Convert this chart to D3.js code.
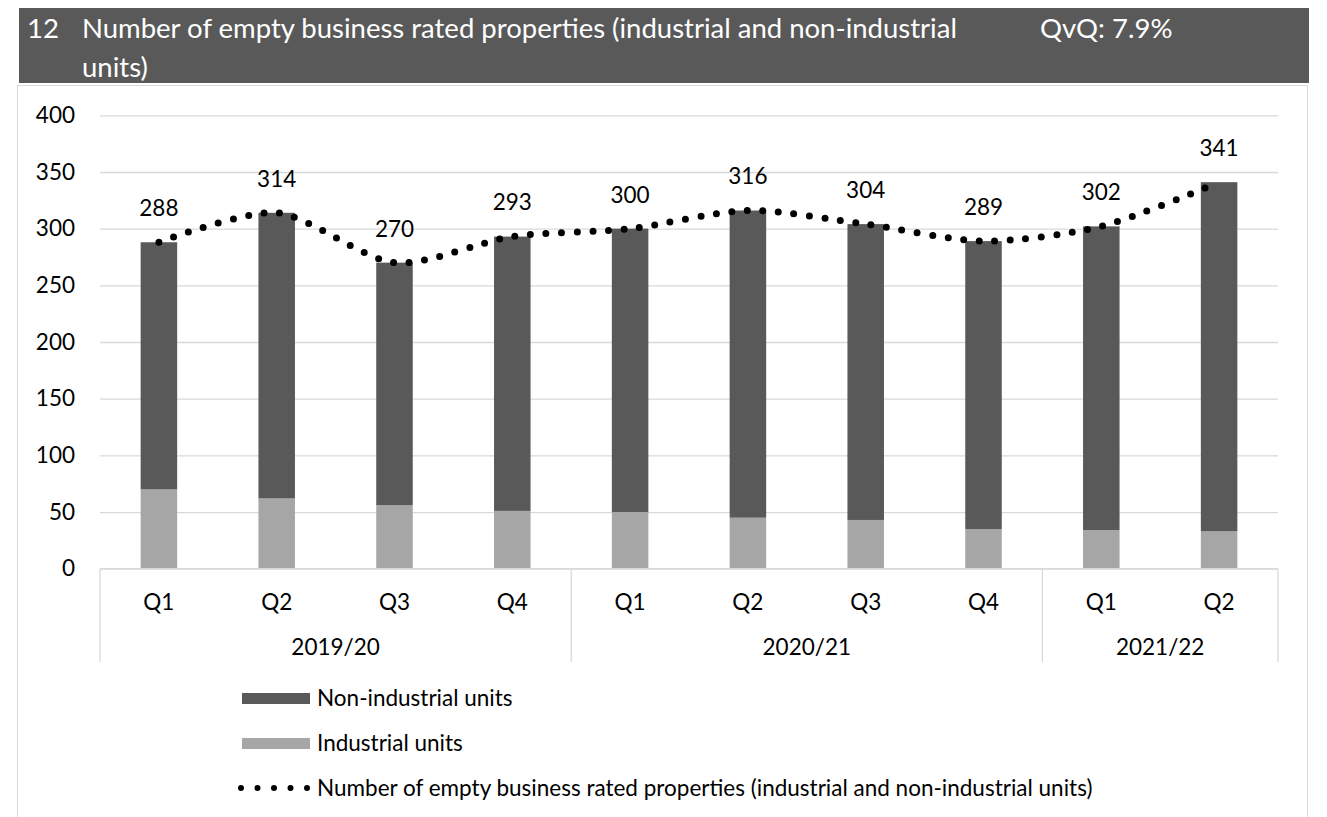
<!DOCTYPE html>
<html>
<head>
<meta charset="utf-8">
<script src="https://cdn.jsdelivr.net/npm/d3@7"></script>
<style>
  body { margin: 0; background: #fff; }
  svg text { font-family: Lato, "Open Sans", sans-serif; }
</style>
</head>
<body>
<svg id="chart" width="1327" height="817"></svg>
<script>
// chart data
const quarters = ['Q1', 'Q2', 'Q3', 'Q4', 'Q1', 'Q2', 'Q3', 'Q4', 'Q1', 'Q2'];
const yearLabels = ['2019/20', '2020/21', '2021/22'];
const yearSpans = [4, 4, 2];
const industrial = [70, 62, 56, 51, 50, 45, 43, 35, 34, 33];
const nonIndustrial = [218, 252, 214, 242, 250, 271, 261, 254, 268, 308];
const totals = [288, 314, 270, 293, 300, 316, 304, 289, 302, 341];
const yTicks = [0, 50, 100, 150, 200, 250, 300, 350, 400];

const titleLine1 = 'Number of empty business rated properties (industrial and non-industrial';
const titleLine2 = 'units)';
const legendLabels = ['Non-industrial units', 'Industrial units',
  'Number of empty business rated properties (industrial and non-industrial units)'];

const DARK = '#595959';
const LIGHT = '#a6a6a6';
const GRID = '#d9d9d9';
const FS = 22.5; // body text size

const svg = d3.select('#chart');

// frame + header band
svg.append('rect')
  .attr('x', 17.5).attr('y', 85.5)
  .attr('width', 1290).attr('height', 760)
  .attr('fill', '#fff').attr('stroke', GRID);

svg.append('rect')
  .attr('x', 19).attr('y', 8)
  .attr('width', 1290).attr('height', 75)
  .attr('fill', DARK);

const header = svg.append('g').attr('fill', '#fff').attr('font-size', 27.5);
header.append('text').attr('x', 27).attr('y', 38).text('12');
header.append('text').attr('x', 82).attr('y', 38).text(titleLine1);
header.append('text').attr('x', 82).attr('y', 77).text(titleLine2);
header.append('text').attr('x', 1040).attr('y', 38).text('QvQ: 7.9%');

// scales
const x = d3.scaleBand()
  .domain(d3.range(quarters.length))
  .range([100, 1278])
  .paddingInner(0.69)
  .paddingOuter(0.345);

const y = d3.scaleLinear().domain([0, 400]).range([568.7, 115.3]);

// gridlines + y labels
const yAxis = d3.axisLeft(y).tickValues(yTicks).tickSize(-(1278 - 100)).tickPadding(25);
const gy = svg.append('g').attr('transform', 'translate(100,0)').call(yAxis);
gy.select('.domain').remove();
gy.selectAll('.tick line').attr('stroke', GRID).attr('stroke-width', 1.3);
gy.selectAll('.tick text')
  .attr('fill', '#000').attr('font-size', FS)
  .attr('font-family', 'Lato, sans-serif');

// stacked bars
const rows = quarters.map((q, i) => ({ i: i, industrial: industrial[i], nonIndustrial: nonIndustrial[i] }));
const stacked = d3.stack().keys(['industrial', 'nonIndustrial'])(rows);
const colors = { industrial: LIGHT, nonIndustrial: DARK };

svg.append('g').selectAll('g')
  .data(stacked)
  .join('g')
    .attr('fill', d => colors[d.key])
  .selectAll('rect')
  .data(d => d)
  .join('rect')
    .attr('x', d => x(d.data.i))
    .attr('y', d => y(d[1]))
    .attr('width', x.bandwidth())
    .attr('height', d => y(d[0]) - y(d[1]));

// x axis: base line, group separators and labels
const axisG = svg.append('g');
axisG.append('line')
  .attr('x1', 100).attr('x2', 1278)
  .attr('y1', y(0)).attr('y2', y(0))
  .attr('stroke', GRID).attr('stroke-width', 1.3);

let start = 0;
const separators = [x.range()[0]];
yearSpans.forEach((n, k) => {
  const x0 = x.range()[0] + start * x.step();
  const x1 = x.range()[0] + (start + n) * x.step();
  separators.push(x1);
  axisG.append('text')
    .attr('x', (x0 + x1) / 2).attr('y', 647).attr('dy', '0.35em')
    .attr('text-anchor', 'middle').attr('font-size', FS).attr('fill', '#000')
    .text(yearLabels[k]);
  start += n;
});

axisG.selectAll('.sep')
  .data(separators)
  .join('line')
    .attr('x1', d => d).attr('x2', d => d)
    .attr('y1', y(0)).attr('y2', 662)
    .attr('stroke', GRID).attr('stroke-width', 1.3);

axisG.selectAll('.qlabel')
  .data(quarters)
  .join('text')
    .attr('x', (d, i) => x(i) + x.bandwidth() / 2)
    .attr('y', 602).attr('dy', '0.35em')
    .attr('text-anchor', 'middle').attr('font-size', FS).attr('fill', '#000')
    .text(d => d);

// dotted smoothed total line
const line = d3.line()
  .x((d, i) => x(i) + x.bandwidth() / 2)
  .y(d => y(d))
  .curve(d3.curveCardinal.tension(0.2));

svg.append('path')
  .datum(totals)
  .attr('d', line)
  .attr('fill', 'none')
  .attr('stroke', '#000')
  .attr('stroke-width', 7)
  .attr('stroke-linecap', 'round')
  .attr('stroke-dasharray', '0 15.6');

// value labels
svg.append('g').selectAll('text')
  .data(totals)
  .join('text')
    .attr('x', (d, i) => x(i) + x.bandwidth() / 2)
    .attr('y', d => y(d) - 34).attr('dy', '0.35em')
    .attr('text-anchor', 'middle').attr('font-size', FS).attr('fill', '#000')
    .text(d => d);

// legend
const legend = svg.append('g').attr('font-size', FS).attr('fill', '#000');
[DARK, LIGHT].forEach((c, k) => {
  legend.append('rect')
    .attr('x', 242).attr('y', 693 + k * 45)
    .attr('width', 68).attr('height', 11)
    .attr('fill', c);
});
legend.append('line')
  .attr('x1', 241).attr('x2', 308)
  .attr('y1', 788).attr('y2', 788)
  .attr('stroke', '#000').attr('stroke-width', 6)
  .attr('stroke-linecap', 'round')
  .attr('stroke-dasharray', '0 16.5');

legend.selectAll('.lab')
  .data(legendLabels)
  .join('text')
    .attr('x', 317)
    .attr('y', (d, k) => 698 + k * 45).attr('dy', '0.35em')
    .text(d => d);
</script>
</body>
</html>
